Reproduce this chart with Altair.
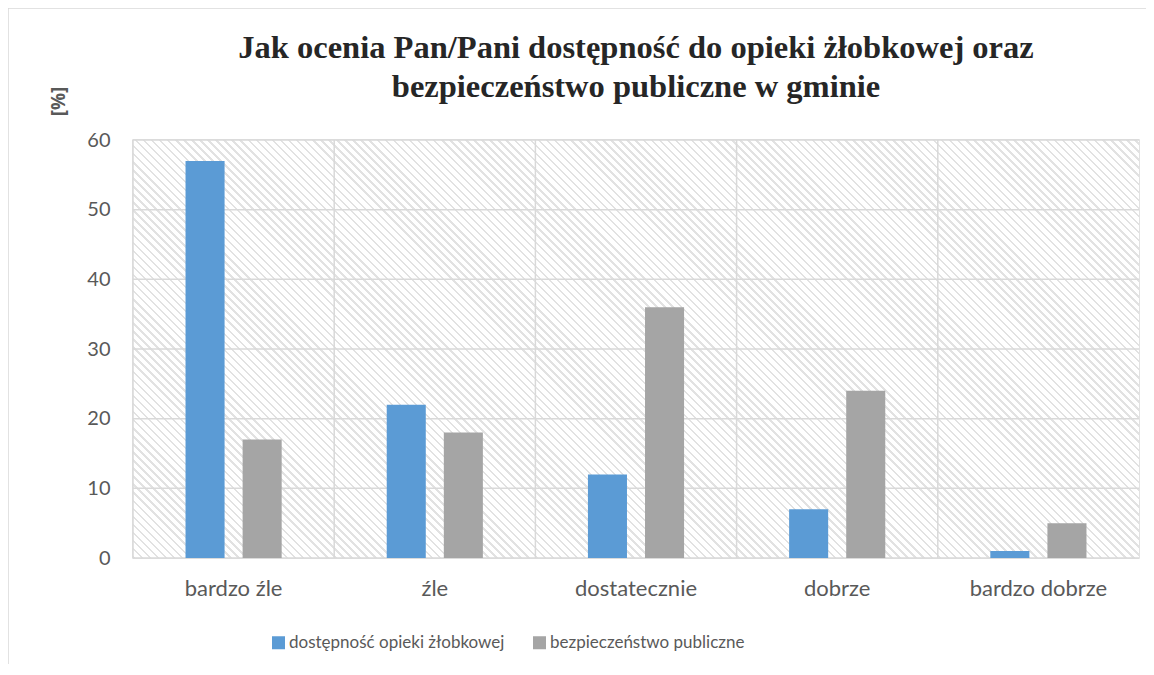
import altair as alt
import pandas as pd

categories = ["bardzo źle", "źle", "dostatecznie", "dobrze", "bardzo dobrze"]
series_names = ["dostępność opieki żłobkowej", "bezpieczeństwo publiczne"]
zlobki = [57, 22, 12, 7, 1]
bezpieczenstwo = [17, 18, 36, 24, 5]
y_ticks = [0, 10, 20, 30, 40, 50, 60]

rows = []
for c, a, b in zip(categories, zlobki, bezpieczenstwo):
    rows.append({"kategoria": c, "seria": series_names[0], "wartosc": a})
    rows.append({"kategoria": c, "seria": series_names[1], "wartosc": b})
df = pd.DataFrame(rows)

W, H = 1006, 418
SANS = "Lato"
TXT = "#595959"
GRID = "#D9D9D9"

# diagonal hatch for the plot background, built as a striped linear gradient
gx = 1.0
gy = -H / W
t = (1 + H / W) / (gx * gx + gy * gy)
x2, y2 = t * gx, 1 + t * gy
span = (W + H) / (2 ** 0.5)
period = 5.7
n = int(span / period) + 1
stops = []
for i in range(n):
    o = i * period / span
    o2 = (i * period + 1.8) / span
    o3 = (i + 1) * period / span
    if o > 1:
        break
    stops.append({"offset": min(o, 1), "color": "#E2E2E2"})
    stops.append({"offset": min(o2, 1), "color": "#E2E2E2"})
    stops.append({"offset": min(o2, 1), "color": "#FFFFFF"})
    stops.append({"offset": min(o3, 1), "color": "#FFFFFF"})
hatch = {"gradient": "linear", "x1": 0, "y1": 1, "x2": x2, "y2": y2, "stops": stops}

one = pd.DataFrame({"a": [0]})

frame = alt.Chart(one).mark_rect(
    fill=None, stroke=GRID, strokeWidth=1.5, clip=False
).encode(
    x=alt.value(-125), x2=alt.value(W + 60), y=alt.value(-132), y2=alt.value(H + 150)
)

background = alt.Chart(one).mark_rect(color=hatch).encode(
    x=alt.value(0), x2=alt.value(W), y=alt.value(0), y2=alt.value(H)
)

x_scale = alt.Scale(domain=categories, paddingInner=0, paddingOuter=0)
y_scale = alt.Scale(domain=[0, 60], nice=False)

ygrid = alt.Chart(pd.DataFrame({"wartosc": y_ticks})).mark_rule(
    color=GRID, strokeWidth=1.5
).encode(y=alt.Y("wartosc:Q", scale=y_scale))

xgrid = alt.Chart(pd.DataFrame({"kategoria": categories})).mark_rule(
    color=GRID, strokeWidth=1.5
).encode(x=alt.X("kategoria:N", sort=categories, scale=x_scale, bandPosition=0))

bars = alt.Chart(df).mark_bar().encode(
    x=alt.X(
        "kategoria:N",
        sort=categories,
        scale=x_scale,
        axis=alt.Axis(
            title=None, labelAngle=0, labelFont=SANS, labelFontSize=22, labelColor=TXT,
            labelPadding=37, ticks=False, domain=False, grid=False, bandPosition=0.5,
            labelAlign="center", labelBaseline="alphabetic", labelLimit=0,
        ),
    ),
    xOffset=alt.XOffset("seria:N", sort=series_names,
                        scale=alt.Scale(paddingInner=0.316, paddingOuter=0.92)),
    y=alt.Y(
        "wartosc:Q",
        scale=y_scale,
        axis=alt.Axis(
            values=y_ticks, title="[%]", titleFont="Open Sans", titleFontSize=19,
            titleFontWeight="bold", titleColor=TXT, titleAngle=-90, titleX=-75, titleY=-39,
            titleAlign="center", titleBaseline="middle", labelFont=SANS, labelFontSize=20,
            labelColor=TXT, labelPadding=23, ticks=False, domain=False, grid=False,
        ),
    ),
    color=alt.Color(
        "seria:N", sort=series_names,
        scale=alt.Scale(domain=series_names, range=["#5B9BD5", "#A5A5A5"]),
        legend=alt.Legend(
            title=None, orient="none", legendX=137, legendY=494, direction="horizontal",
            symbolType="square", symbolSize=169, symbolStrokeWidth=0, labelFont=SANS,
            labelFontSize=17, labelColor=TXT, columnPadding=26, padding=0, labelOffset=2,
            labelLimit=0,
        ),
    ),
)

chart = alt.layer(frame, background, ygrid, xgrid, bars).properties(
    width=W, height=H,
    title=alt.TitleParams(
        text=["Jak ocenia Pan/Pani dostępność do opieki żłobkowej oraz",
              "bezpieczeństwo publiczne w gminie"],
        font="Liberation Serif", fontSize=32.5, fontWeight="bold", color="#262626",
        anchor="middle", offset=0, dy=96, lineHeight=39,
    ),
    autosize=alt.AutoSizeParams(type="none"),
    padding={"left": 125, "top": 132, "right": 7, "bottom": 106},
).configure_view(stroke=GRID, strokeWidth=1.5)

chart.save("out.html", embed_options={"renderer": "svg", "actions": False})
